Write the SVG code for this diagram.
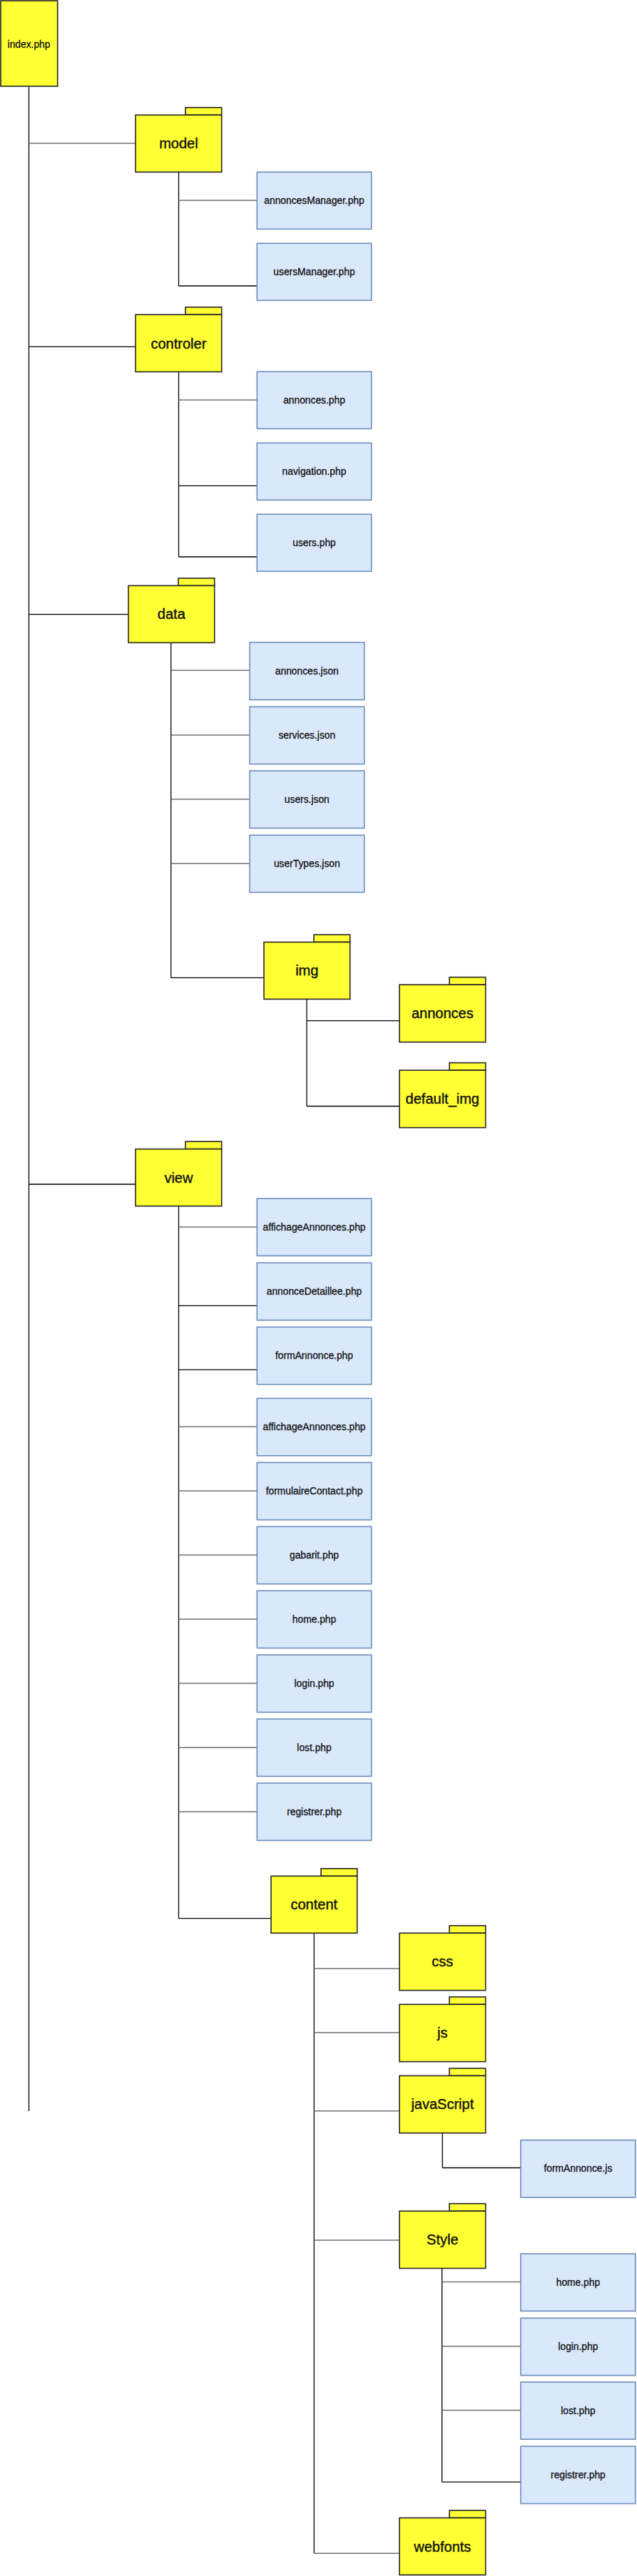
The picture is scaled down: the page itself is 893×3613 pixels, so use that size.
<svg xmlns="http://www.w3.org/2000/svg" width="893" height="3613" viewBox="0 0 893 3613">
<style>
.bg{fill:#ffffff}
.fb{fill:#ffff33;stroke:#262626;stroke-width:1.6}
.fi{fill:#dae8fc;stroke:#6c8ebf;stroke-width:1.6}
.k{stroke:#000000;stroke-width:1.3;fill:none}
.g{stroke:#707070;stroke-width:1.5;fill:none}
.t20{font-family:"Liberation Sans",Arial,Helvetica,sans-serif;font-size:20px;fill:#111111;stroke:#111111;stroke-width:0.4;text-anchor:middle}
.t14{font-family:"Liberation Sans",Arial,Helvetica,sans-serif;font-size:13.8px;fill:#111111;stroke:#111111;stroke-width:0.3;text-anchor:middle}
</style>
<rect class="bg" x="0" y="0" width="893" height="3613"/>
<g id="connectors">
<line class="k" x1="40.5" y1="121" x2="40.5" y2="2961"/>
<line class="g" x1="40.5" y1="201" x2="190" y2="201"/>
<line class="k" x1="40.5" y1="486.3" x2="190" y2="486.3"/>
<line class="k" x1="40.5" y1="861.7" x2="180" y2="861.7"/>
<line class="k" x1="40.5" y1="1661" x2="190" y2="1661"/>
<line class="k" x1="250.5" y1="241.5" x2="250.5" y2="401"/>
<line class="g" x1="250.5" y1="281" x2="360.3" y2="281"/>
<line class="k" x1="250.5" y1="401" x2="360.3" y2="401"/>
<line class="k" x1="250.5" y1="521.5" x2="250.5" y2="781"/>
<line class="g" x1="250.5" y1="561" x2="360.3" y2="561"/>
<line class="k" x1="250.5" y1="681.3" x2="360.3" y2="681.3"/>
<line class="k" x1="250.5" y1="781" x2="360.3" y2="781"/>
<line class="k" x1="239.7" y1="901.5" x2="239.7" y2="1371.4"/>
<line class="g" x1="239.7" y1="940.3" x2="350" y2="940.3"/>
<line class="g" x1="239.7" y1="1031.1" x2="350" y2="1031.1"/>
<line class="g" x1="239.7" y1="1120.9" x2="350" y2="1120.9"/>
<line class="g" x1="239.7" y1="1211.2" x2="350" y2="1211.2"/>
<line class="k" x1="239.7" y1="1371.4" x2="370" y2="1371.4"/>
<line class="k" x1="430" y1="1401.5" x2="430" y2="1551.5"/>
<line class="k" x1="430" y1="1431.6" x2="560" y2="1431.6"/>
<line class="k" x1="430" y1="1551.5" x2="560" y2="1551.5"/>
<line class="k" x1="250.5" y1="1681.7" x2="250.5" y2="2690.7"/>
<line class="g" x1="250.5" y1="1721" x2="360.3" y2="1721"/>
<line class="k" x1="250.5" y1="1831.3" x2="360.3" y2="1831.3"/>
<line class="k" x1="250.5" y1="1921.2" x2="360.3" y2="1921.2"/>
<line class="g" x1="250.5" y1="2001" x2="360.3" y2="2001"/>
<line class="g" x1="250.5" y1="2091" x2="360.3" y2="2091"/>
<line class="g" x1="250.5" y1="2181" x2="360.3" y2="2181"/>
<line class="g" x1="250.5" y1="2271" x2="360.3" y2="2271"/>
<line class="g" x1="250.5" y1="2361" x2="360.3" y2="2361"/>
<line class="g" x1="250.5" y1="2451" x2="360.3" y2="2451"/>
<line class="g" x1="250.5" y1="2541" x2="360.3" y2="2541"/>
<line class="k" x1="250.5" y1="2690.7" x2="380" y2="2690.7"/>
<line class="k" x1="440.3" y1="2711.3" x2="440.3" y2="3581.3"/>
<line class="g" x1="440.3" y1="2761" x2="560" y2="2761"/>
<line class="g" x1="440.3" y1="2850.8" x2="560" y2="2850.8"/>
<line class="g" x1="440.3" y1="2960.8" x2="560" y2="2960.8"/>
<line class="g" x1="440.3" y1="3141.9" x2="560" y2="3141.9"/>
<line class="g" x1="440.3" y1="3581.3" x2="560" y2="3581.3"/>
<line class="k" x1="620.3" y1="2991.7" x2="620.3" y2="3040.5"/>
<line class="k" x1="620.3" y1="3040.5" x2="730" y2="3040.5"/>
<line class="k" x1="619.6" y1="3181.5" x2="619.6" y2="3481.2"/>
<line class="g" x1="619.6" y1="3200.6" x2="730" y2="3200.6"/>
<line class="g" x1="619.6" y1="3290.8" x2="730" y2="3290.8"/>
<line class="g" x1="619.6" y1="3380.4" x2="730" y2="3380.4"/>
<line class="k" x1="619.6" y1="3481.2" x2="730" y2="3481.2"/>
</g>
<g id="index"><rect class="fb" x="1" y="1" width="79.7" height="120"/><text class="t14" x="40.5" y="66.5">index.php</text></g>
<g id="model"><rect class="fb" x="260" y="150.8" width="50.7" height="10.5"/><rect class="fb" x="190" y="161.3" width="120.7" height="80"/><text class="t20" x="250.4" y="208.3">model</text></g>
<g id="controler"><rect class="fb" x="260" y="430.8" width="50.7" height="10.5"/><rect class="fb" x="190" y="441.3" width="120.7" height="80.2"/><text class="t20" x="250.4" y="488.5">controler</text></g>
<g id="data"><rect class="fb" x="250" y="811" width="50.7" height="10.5"/><rect class="fb" x="180" y="821.4" width="120.7" height="80"/><text class="t20" x="240.3" y="868.4">data</text></g>
<g id="img"><rect class="fb" x="440" y="1310.9" width="50.7" height="10.5"/><rect class="fb" x="370" y="1321.4" width="120.7" height="80"/><text class="t20" x="430.3" y="1368.4">img</text></g>
<g id="annonces"><rect class="fb" x="630" y="1370.6" width="50.7" height="10.5"/><rect class="fb" x="560" y="1381.1" width="120.7" height="80.5"/><text class="t20" x="620.3" y="1428.3">annonces</text></g>
<g id="default_img"><rect class="fb" x="630" y="1490.6" width="50.7" height="10.5"/><rect class="fb" x="560" y="1501.1" width="120.7" height="80.5"/><text class="t20" x="620.3" y="1548.3">default_img</text></g>
<g id="view"><rect class="fb" x="260" y="1601" width="50.7" height="10.6"/><rect class="fb" x="190" y="1611.6" width="120.7" height="80"/><text class="t20" x="250.4" y="1658.6">view</text></g>
<g id="content"><rect class="fb" x="450" y="2620.8" width="50.7" height="10.5"/><rect class="fb" x="380" y="2631.3" width="120.7" height="80"/><text class="t20" x="440.3" y="2678">content</text></g>
<g id="css"><rect class="fb" x="630" y="2700.8" width="50.7" height="10.5"/><rect class="fb" x="560" y="2711.3" width="120.7" height="80.3"/><text class="t20" x="620.3" y="2758.3">css</text></g>
<g id="js"><rect class="fb" x="630" y="2800.8" width="50.7" height="10.5"/><rect class="fb" x="560" y="2811.3" width="120.7" height="80.3"/><text class="t20" x="620.3" y="2858">js</text></g>
<g id="javaScript"><rect class="fb" x="630" y="2900.9" width="50.7" height="10.5"/><rect class="fb" x="560" y="2911.4" width="120.7" height="80.3"/><text class="t20" x="620.3" y="2958">javaScript</text></g>
<g id="Style"><rect class="fb" x="630" y="3090.7" width="50.7" height="10.5"/><rect class="fb" x="560" y="3101.2" width="120.7" height="80.3"/><text class="t20" x="620.3" y="3147.8">Style</text></g>
<g id="webfonts"><rect class="fb" x="630" y="3521" width="50.7" height="10.5"/><rect class="fb" x="560" y="3531.5" width="120.7" height="80"/><text class="t20" x="620.3" y="3578.5">webfonts</text></g>
<g id="annoncesManager"><rect class="fi" x="360.3" y="241.3" width="160.4" height="80"/><text class="t14" x="440.5" y="286">annoncesManager.php</text></g>
<g id="usersManager"><rect class="fi" x="360.3" y="341.3" width="160.4" height="80"/><text class="t14" x="440.5" y="386">usersManager.php</text></g>
<g id="annonces_php"><rect class="fi" x="360.3" y="521.3" width="160.4" height="80"/><text class="t14" x="440.5" y="566">annonces.php</text></g>
<g id="navigation_php"><rect class="fi" x="360.3" y="621.3" width="160.4" height="80"/><text class="t14" x="440.5" y="666">navigation.php</text></g>
<g id="users_php"><rect class="fi" x="360.3" y="721.3" width="160.4" height="80"/><text class="t14" x="440.5" y="766">users.php</text></g>
<g id="annonces_json"><rect class="fi" x="350" y="901" width="160.7" height="80.5"/><text class="t14" x="430.3" y="946">annonces.json</text></g>
<g id="services_json"><rect class="fi" x="350" y="991.3" width="160.7" height="80.3"/><text class="t14" x="430.3" y="1036.3">services.json</text></g>
<g id="users_json"><rect class="fi" x="350" y="1081.1" width="160.7" height="80.4"/><text class="t14" x="430.3" y="1126">users.json</text></g>
<g id="userTypes_json"><rect class="fi" x="350" y="1171.4" width="160.7" height="80.1"/><text class="t14" x="430.3" y="1216.3">userTypes.json</text></g>
<g id="affichageAnnonces1"><rect class="fi" x="360.3" y="1681" width="160.4" height="80.4"/><text class="t14" x="440.5" y="1726">affichageAnnonces.php</text></g>
<g id="annonceDetaillee"><rect class="fi" x="360.3" y="1771.2" width="160.4" height="80.4"/><text class="t14" x="440.5" y="1816.2">annonceDetaillee.php</text></g>
<g id="formAnnonce_php"><rect class="fi" x="360.3" y="1861.3" width="160.4" height="80.4"/><text class="t14" x="440.5" y="1906.3">formAnnonce.php</text></g>
<g id="affichageAnnonces2"><rect class="fi" x="360.3" y="1961.3" width="160.4" height="80.4"/><text class="t14" x="440.5" y="2006.3">affichageAnnonces.php</text></g>
<g id="formulaireContact"><rect class="fi" x="360.3" y="2051.3" width="160.4" height="80.4"/><text class="t14" x="440.5" y="2096.3">formulaireContact.php</text></g>
<g id="gabarit"><rect class="fi" x="360.3" y="2141.2" width="160.4" height="80.4"/><text class="t14" x="440.5" y="2186.2">gabarit.php</text></g>
<g id="home_view"><rect class="fi" x="360.3" y="2231.1" width="160.4" height="80.4"/><text class="t14" x="440.5" y="2276.1">home.php</text></g>
<g id="login_view"><rect class="fi" x="360.3" y="2321.1" width="160.4" height="80.4"/><text class="t14" x="440.5" y="2366.1">login.php</text></g>
<g id="lost_view"><rect class="fi" x="360.3" y="2411" width="160.4" height="80.4"/><text class="t14" x="440.5" y="2456">lost.php</text></g>
<g id="registrer_view"><rect class="fi" x="360.3" y="2500.9" width="160.4" height="80.4"/><text class="t14" x="440.5" y="2545.9">registrer.php</text></g>
<g id="formAnnonce_js"><rect class="fi" x="730" y="3001.6" width="160.8" height="80.4"/><text class="t14" x="810.4" y="3046.3">formAnnonce.js</text></g>
<g id="home_style"><rect class="fi" x="730" y="3161" width="160.8" height="80.4"/><text class="t14" x="810.4" y="3205.8">home.php</text></g>
<g id="login_style"><rect class="fi" x="730" y="3251.3" width="160.8" height="80.3"/><text class="t14" x="810.4" y="3296">login.php</text></g>
<g id="lost_style"><rect class="fi" x="730" y="3341" width="160.8" height="80.2"/><text class="t14" x="810.4" y="3385.7">lost.php</text></g>
<g id="registrer_style"><rect class="fi" x="730" y="3431.1" width="160.8" height="80.4"/><text class="t14" x="810.4" y="3475.9">registrer.php</text></g>
</svg>
